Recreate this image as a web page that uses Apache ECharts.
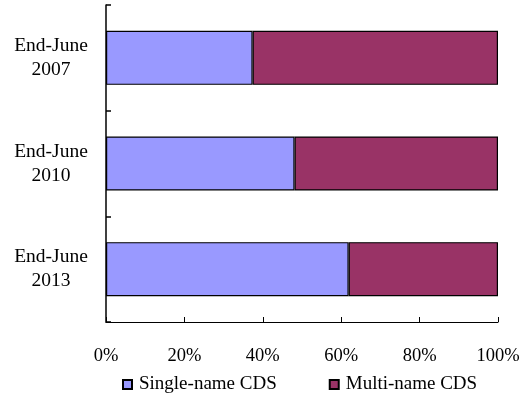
<!DOCTYPE html>
<html>
<head>
<meta charset="utf-8">
<script src="https://cdn.jsdelivr.net/npm/echarts@6/dist/echarts.min.js"></script>
<style>
html,body{margin:0;padding:0;background:#fff;}
#main{width:526px;height:414px;}
</style>
</head>
<body>
<div id="main"></div>
<script>
// 类目(从下到上)
var categories = ['End-June\n2013', 'End-June\n2010', 'End-June\n2007'];
// 单名CDS占比
var singleName = [61.9, 48.1, 37.4];
// 多名CDS占比
var multiName = [38.1, 51.9, 62.6];

var myChart = echarts.init(document.getElementById('main'));
var font = '"Liberation Serif", "Times New Roman", serif';
var option = {
    animation: false,
    textStyle: {fontFamily: font},
    grid: {left: 106, right: 28, top: 5, bottom: 92},
    legend: {
        top: 370,
        left: 117,
        itemGap: 52,
        itemWidth: 9,
        itemHeight: 9,
        icon: 'rect',
        textStyle: {fontFamily: font, fontSize: 19, color: '#000', padding: [0, 0, 0, 2]},
        data: ['Single-name CDS', 'Multi-name CDS']
    },
    xAxis: {
        type: 'value',
        min: 0,
        max: 100,
        interval: 20,
        axisLine: {show: true, lineStyle: {color: '#000', width: 1}},
        axisTick: {show: true, inside: true, length: 5, lineStyle: {color: '#000'}},
        splitLine: {show: false},
        axisLabel: {
            color: '#000', fontSize: 18.5, fontFamily: font, margin: 25,
            formatter: function (v) { return v + '%'; }
        }
    },
    yAxis: {
        type: 'category',
        data: categories,
        axisLine: {show: true, lineStyle: {color: '#000', width: 1.5}},
        axisTick: {show: true, inside: true, length: 5, lineStyle: {color: '#000', width: 1.5}},
        axisLabel: {color: '#000', fontSize: 19.5, fontFamily: font, margin: 55, lineHeight: 24, align: 'center'}
    },
    series: [
        {
            name: 'Single-name CDS',
            type: 'bar',
            stack: 'total',
            barWidth: 54,
            data: singleName,
            itemStyle: {color: '#9999FF', borderColor: '#000', borderWidth: 1.2}
        },
        {
            name: 'Multi-name CDS',
            type: 'bar',
            stack: 'total',
            barWidth: 54,
            data: multiName,
            itemStyle: {color: '#993366', borderColor: '#000', borderWidth: 1.2}
        }
    ]
};
myChart.setOption(option);
</script>
</body>
</html>
